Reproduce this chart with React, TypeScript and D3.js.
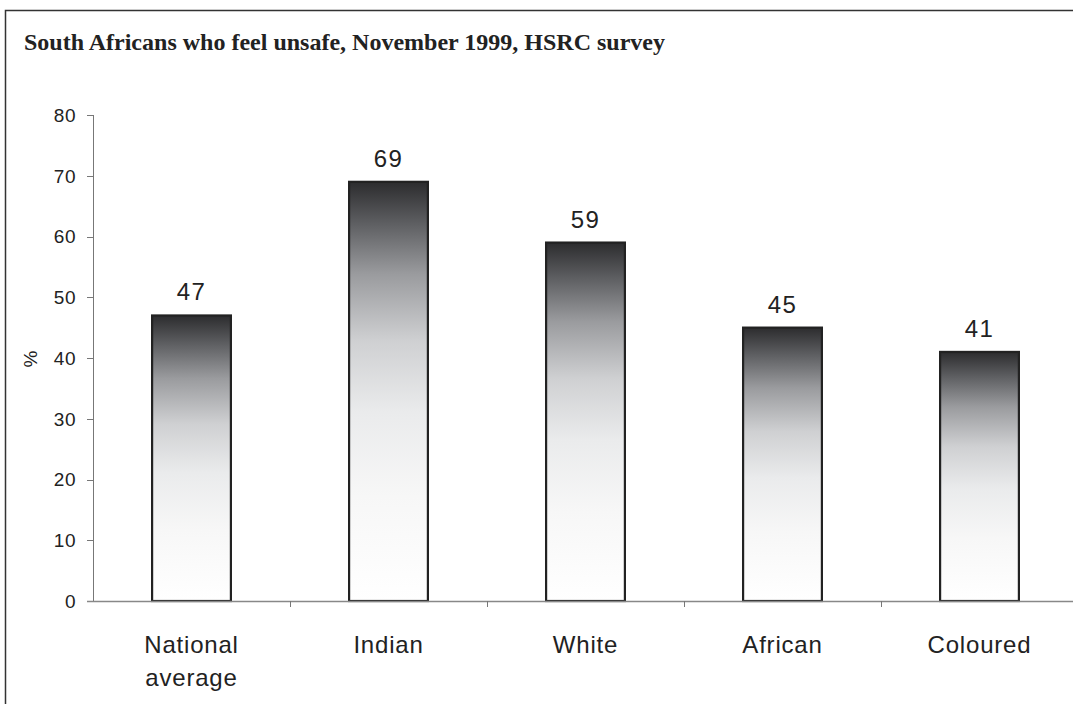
import React from "react";
import * as d3 from "d3";

const categories = ["National average", "Indian", "White", "African", "Coloured"];
const values = [47, 69, 59, 45, 41];
const yTicks = [0, 10, 20, 30, 40, 50, 60, 70, 80];
const title = "South Africans who feel unsafe, November 1999, HSRC survey";

export default function App() {
  const W = 1073, H = 704;
  const x = d3.scaleBand<string>().domain(categories).range([93, 1078]).paddingInner(0.6).paddingOuter(0.3);
  const y = d3.scaleLinear().domain([0, 80]).range([601, 115]);
  const step = x.step();
  const sans = "'Liberation Sans', Arial, sans-serif";
  return (
    <svg width={W} height={H} style={{ position: "absolute", left: 0, top: 0 }}>
      <defs>
        <linearGradient id="barg" x1="0" y1="0" x2="0" y2="1">
          <stop offset="0" stopColor="#2c2c2e" />
          <stop offset="0.1" stopColor="#5e5f62" />
          <stop offset="0.22" stopColor="#9a9b9e" />
          <stop offset="0.38" stopColor="#cfd0d2" />
          <stop offset="0.55" stopColor="#eaebec" />
          <stop offset="0.75" stopColor="#f7f7f7" />
          <stop offset="1" stopColor="#ffffff" />
        </linearGradient>
      </defs>
      <rect x={0} y={0} width={W} height={H} fill="#fff" />
      <rect x={5.5} y={10.5} width={W + 20} height={H + 20} fill="none" stroke="#333" strokeWidth={1.5} />
      <text x={24} y={50} fontFamily="'Liberation Serif', 'Times New Roman', serif" fontWeight="bold" fontSize={24} fill="#222" textLength={641} lengthAdjust="spacingAndGlyphs">{title}</text>
      {/* y axis */}
      <line x1={93.5} y1={115} x2={93.5} y2={601} stroke="#777" strokeWidth={1} />
      {yTicks.map(t => (
        <g key={t}>
          <line x1={87} x2={93.5} y1={Math.round(y(t)) + 0.5} y2={Math.round(y(t)) + 0.5} stroke="#777" />
          <text x={76} y={y(t)} dy="0.36em" textAnchor="end" fontFamily={sans} fontSize={19} letterSpacing={0.5} fill="#222">{t}</text>
        </g>
      ))}
      <text transform={`translate(37,359) rotate(-90)`} textAnchor="middle" fontFamily={sans} fontSize={19} fill="#222">%</text>
      {/* bars */}
      {categories.map((c, i) => {
        const x0 = x(c)!;
        const bw = x.bandwidth();
        const yt = y(values[i]);
        return (
          <g key={c}>
            <rect x={x0} y={yt} width={bw} height={y(0) - yt} fill="url(#barg)" stroke="#222" strokeWidth={2.2} />
            <text x={x0 + bw / 2} y={yt - 15} textAnchor="middle" fontFamily={sans} fontSize={24} letterSpacing={1.5} fill="#222">{values[i]}</text>
          </g>
        );
      })}
      {/* x axis */}
      <line x1={87} x2={W} y1={601.5} y2={601.5} stroke="#888" strokeWidth={1.5} />
      {categories.map((c, i) => (
        <line key={"t" + i} x1={93.5 + step * (i + 1)} x2={93.5 + step * (i + 1)} y1={601} y2={607} stroke="#777" />
      ))}
      {categories.map((c) => {
        const cx = x(c)! + x.bandwidth() / 2;
        const words = c === "National average" ? ["National", "average"] : [c];
        return (
          <text key={"l" + c} x={cx} y={653} textAnchor="middle" fontFamily={sans} fontSize={24} letterSpacing={0.8} fill="#222">
            {words.map((w, j) => (
              <tspan key={j} x={cx} dy={j === 0 ? 0 : 33}>{w}</tspan>
            ))}
          </text>
        );
      })}
    </svg>
  );
}
